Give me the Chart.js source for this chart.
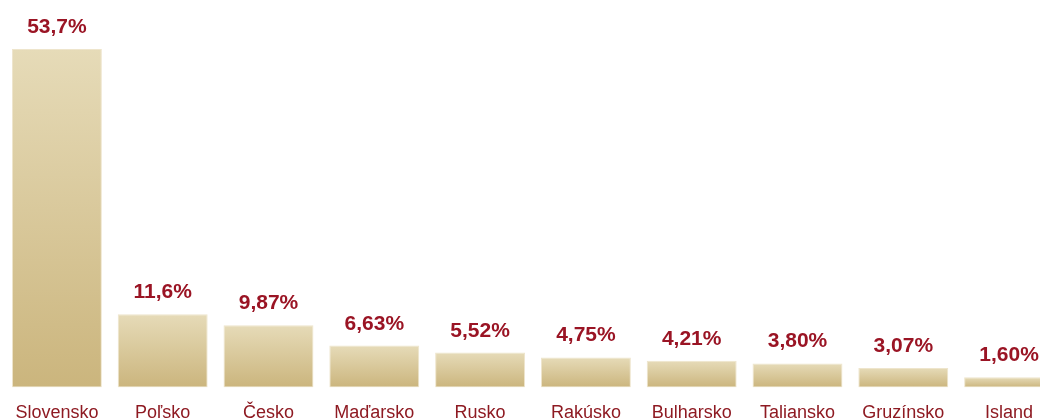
<!DOCTYPE html>
<html>
<head>
<meta charset="utf-8">
<script src="https://cdn.jsdelivr.net/npm/chart.js@4/dist/chart.umd.min.js"></script>
<style>
html,body{margin:0;padding:0;background:#fff;overflow:hidden;width:1040px;height:418px;}
#wrap{position:absolute;left:0;top:0;width:1064px;height:439px;}
</style>
</head>
<body>
<div id="wrap"><canvas id="c" width="1064" height="439"></canvas></div>
<script>
const categories = ["Slovensko","Poľsko","Česko","Maďarsko","Rusko","Rakúsko","Bulharsko","Taliansko","Gruzínsko","Island"];
const values = [53.7, 11.6, 9.87, 6.63, 5.52, 4.75, 4.21, 3.80, 3.07, 1.60];
const valueLabels = ["53,7%","11,6%","9,87%","6,63%","5,52%","4,75%","4,21%","3,80%","3,07%","1,60%"];

function barGradient(ctx) {
  const chart = ctx.chart;
  const area = chart.chartArea;
  if (!area || ctx.type !== 'data') return '#d8c89a';
  const ys = chart.scales.y;
  const top = ys.getPixelForValue(values[ctx.dataIndex]);
  const bottom = ys.getPixelForValue(0);
  const g = chart.ctx.createLinearGradient(0, top, 0, bottom);
  g.addColorStop(0, '#e6dbb8');
  g.addColorStop(1, '#cbb57d');
  return g;
}

const valueLabelPlugin = {
  id: 'valueLabels',
  afterDatasetsDraw(chart) {
    const c = chart.ctx;
    const meta = chart.getDatasetMeta(0);
    c.save();
    c.font = 'bold 21px "Liberation Sans", Arial, sans-serif';
    c.fillStyle = '#9a1424';
    c.textAlign = 'center';
    c.textBaseline = 'alphabetic';
    meta.data.forEach((bar, i) => {
      c.fillText(valueLabels[i], bar.x, bar.y - 16);
    });
    c.restore();
  }
};

new Chart(document.getElementById('c'), {
  type: 'bar',
  data: {
    labels: categories,
    datasets: [{
      data: values,
      backgroundColor: barGradient,
      borderColor: '#eee5cc',
      borderWidth: 1,
      borderSkipped: false,
      categoryPercentage: 1,
      barPercentage: 0.85
    }]
  },
  options: {
    responsive: false,
    animation: false,
    events: [],
    layout: { padding: { left: 4, right: 2, top: 49, bottom: 0 } },
    plugins: { legend: { display: false }, tooltip: { enabled: false }, title: { display: false } },
    scales: {
      y: { display: false, min: 0, max: 53.7 },
      x: {
        grid: { display: false, drawTicks: false },
        border: { display: false },
        ticks: {
          autoSkip: false, maxRotation: 0, padding: 15,
          color: '#8e1a22',
          font: { family: '"Liberation Sans", Arial, sans-serif', size: 18 }
        }
      }
    }
  },
  plugins: [valueLabelPlugin]
});
</script>
</body>
</html>
